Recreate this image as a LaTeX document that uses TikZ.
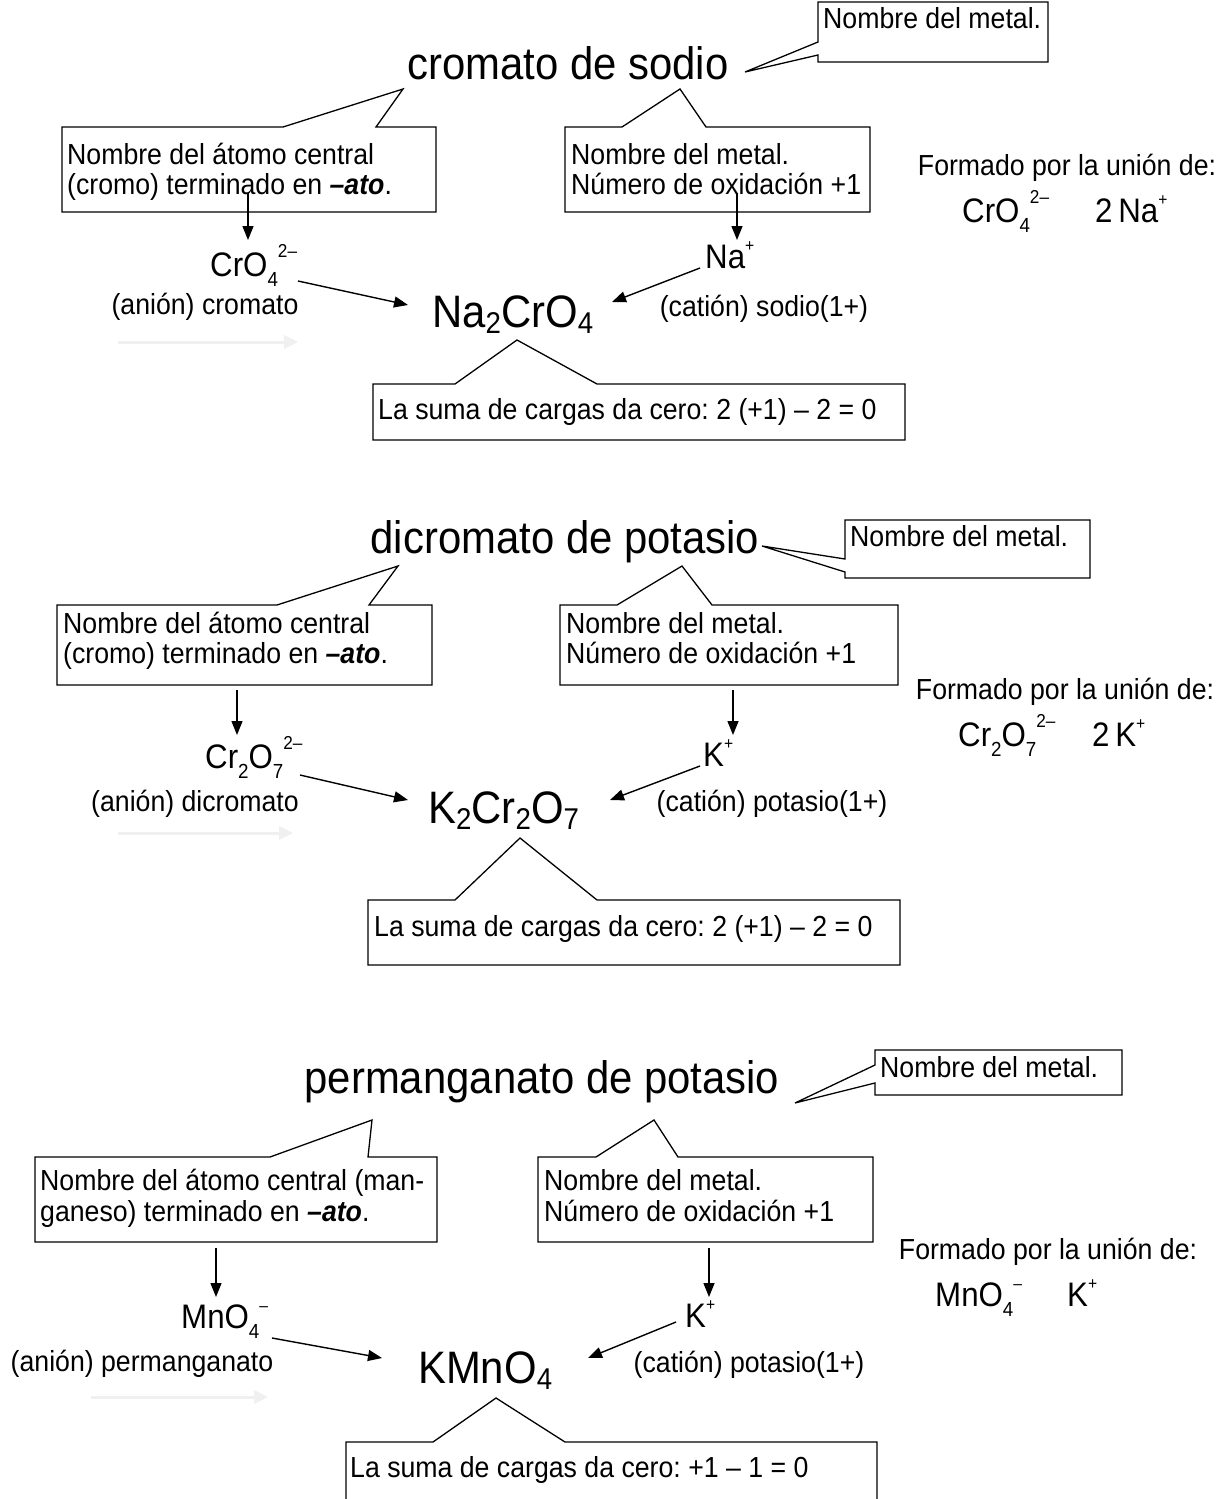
\documentclass[tikz,border=0pt]{standalone}
\usepackage{fontspec}
\usepackage{graphicx}
\setmainfont{Liberation Sans}[FakeStretch=0.92]
\usetikzlibrary{arrows.meta}
\frenchspacing

% chemical sub- and superscripts
\newcommand\isub[1]{\raisebox{-0.3em}{\scalebox{0.6}{#1}}}
\newcommand\isup[1]{\raisebox{0.55em}{\scalebox{0.55}{#1}}}
\newcommand\ichg[1]{\raisebox{0.5em}{\scalebox{0.5}{#1}}}
\newcommand\fsub[1]{\raisebox{-0.14em}{\scalebox{0.66}{#1}}}
\newcommand\ato{{\bfseries\itshape –ato}}

\tikzset{
  callout/.style={draw, line width=1.3pt, line join=miter, fill=white},
  arr/.style={line width=1.4pt, -{Triangle[length=14pt,width=11pt]}},
  faint/.style={draw=black!6, line width=3pt, -{Triangle[length=14pt,width=13pt,fill=black!6]}},
  body/.style={font=\fontsize{29}{33}\selectfont, inner sep=0pt, anchor=base west},
  bodyc/.style={font=\fontsize{29}{33}\selectfont, inner sep=0pt, anchor=base},
  title/.style={font=\fontsize{45.5}{50}\selectfont, inner sep=0pt, anchor=base},
  ion/.style={font=\fontsize{34}{38}\selectfont, inner sep=0pt, anchor=base west},
  formula/.style={font=\fontsize{45.5}{50}\selectfont, inner sep=0pt, anchor=base west},
}

\begin{document}
\begin{tikzpicture}[x=1pt,y=-1pt]
\useasboundingbox (0,0) rectangle (1221,1499);
\clip (0,0) rectangle (1221,1499);
\fill[white] (0,0) rectangle (1221,1499);

% ================= cromato de sodio =================
\draw[callout] (818,2) -- (1048,2) -- (1048,62) -- (818,62) -- (818,55) -- (745,72) -- (818,42) -- cycle;
\node[body] (m1) at (823,28) {Nombre del metal.};
\node[title] (t1) at (568,79) {cromato de sodio};

\draw[callout] (62,127) -- (283,127) -- (403,89) -- (376,127) -- (436,127) -- (436,212) -- (62,212) -- cycle;
\node[body] (a1) at (67,164) {Nombre del átomo central};
\node[body] (a1b) at (67,194) {(cromo) terminado en \ato.};

\draw[callout] (565,127) -- (622,127) -- (680,89) -- (706,127) -- (870,127) -- (870,212) -- (565,212) -- cycle;
\node[body] (c1) at (571,164) {Nombre del metal.};
\node[body] (c1b) at (571,194) {Número de oxidación +1};

\node[ion] (an1) at (210,276) {CrO\isub{4}\isup{2–}};
\node[bodyc] (an1l) at (205,314) {(anión) cromato};
\node[formula] (f1) at (432,327) {Na\fsub{2}CrO\fsub{4}};
\node[ion] (ca1) at (705,268) {Na\ichg{+}};
\node[bodyc] (ca1l) at (764,316) {(catión) sodio(1+)};

\coordinate (p1a) at (248,193); \coordinate (p1b) at (248,240);
\coordinate (q1a) at (737,193); \coordinate (q1b) at (737,240);
\coordinate (r1a) at (298,281); \coordinate (r1b) at (408,305);
\coordinate (s1a) at (700,268); \coordinate (s1b) at (612,302);
\coordinate (g1a) at (118,342); \coordinate (g1b) at (298,342);
\draw[arr] (p1a) -- (p1b);
\draw[arr] (q1a) -- (q1b);
\draw[arr] (r1a) -- (r1b);
\draw[arr] (s1a) -- (s1b);
\draw[faint] (g1a) -- (g1b);

\node[bodyc] (u1) at (1067,175) {Formado por la unión de:};
\node[ion] (u1a) at (962,222) {CrO\isub{4}\isup{2–}};
\node[ion] (u1b) at (1095,222) {2\,Na\ichg{+}};

\draw[callout] (373,384) -- (455,384) -- (517,340) -- (597,384) -- (905,384) -- (905,440) -- (373,440) -- cycle;
\node[body] (z1) at (378,419) {La suma de cargas da cero: 2 (+1) – 2 = 0};

% ================= dicromato de potasio =================
\draw[callout] (845,520) -- (1090,520) -- (1090,578) -- (845,578) -- (845,572) -- (762,546) -- (845,559) -- cycle;
\node[body] (m2) at (850,546) {Nombre del metal.};
\node[title] (t2) at (565,553) {dicromato de potasio};

\draw[callout] (57,605) -- (277,605) -- (398,566) -- (369,605) -- (432,605) -- (432,685) -- (57,685) -- cycle;
\node[body] (a2) at (63,633) {Nombre del átomo central};
\node[body] (a2b) at (63,663) {(cromo) terminado en \ato.};

\draw[callout] (560,605) -- (617,605) -- (682,566) -- (712,605) -- (898,605) -- (898,685) -- (560,685) -- cycle;
\node[body] (c2) at (566,633) {Nombre del metal.};
\node[body] (c2b) at (566,663) {Número de oxidación +1};

\node[ion] (an2) at (205,768) {Cr\isub{2}O\isub{7}\isup{2–}};
\node[bodyc] (an2l) at (195,811) {(anión) dicromato};
\node[formula] (f2) at (428,823) {K\fsub{2}Cr\fsub{2}O\fsub{7}};
\node[ion] (ca2) at (703,766) {K\ichg{+}};
\node[bodyc] (ca2l) at (772,811) {(catión) potasio(1+)};

\coordinate (p2a) at (237,690); \coordinate (p2b) at (237,735);
\coordinate (q2a) at (733,690); \coordinate (q2b) at (733,735);
\coordinate (r2a) at (300,775); \coordinate (r2b) at (408,800);
\coordinate (s2a) at (700,766); \coordinate (s2b) at (610,800);
\coordinate (g2a) at (118,833); \coordinate (g2b) at (293,833);
\draw[arr] (p2a) -- (p2b);
\draw[arr] (q2a) -- (q2b);
\draw[arr] (r2a) -- (r2b);
\draw[arr] (s2a) -- (s2b);
\draw[faint] (g2a) -- (g2b);

\node[bodyc] (u2) at (1065,699) {Formado por la unión de:};
\node[ion] (u2a) at (958,746) {Cr\isub{2}O\isub{7}\isup{2–}};
\node[ion] (u2b) at (1092,746) {2\,K\ichg{+}};

\draw[callout] (368,900) -- (455,900) -- (520,838) -- (597,900) -- (900,900) -- (900,965) -- (368,965) -- cycle;
\node[body] (z2) at (374,936) {La suma de cargas da cero: 2 (+1) – 2 = 0};

% ================= permanganato de potasio =================
\draw[callout] (875,1050) -- (1122,1050) -- (1122,1095) -- (875,1095) -- (875,1083) -- (795,1103) -- (875,1065) -- cycle;
\node[body] (m3) at (880,1077) {Nombre del metal.};
\node[title] (t3) at (542,1093) {permanganato de potasio};

\draw[callout] (35,1157) -- (270,1157) -- (372,1120) -- (368,1157) -- (437,1157) -- (437,1242) -- (35,1242) -- cycle;
\node[body] (a3) at (40,1190) {Nombre del átomo central (man-};
\node[body] (a3b) at (40,1221) {ganeso) terminado en \ato.};

\draw[callout] (538,1157) -- (596,1157) -- (654,1120) -- (678,1157) -- (873,1157) -- (873,1242) -- (538,1242) -- cycle;
\node[body] (c3) at (544,1190) {Nombre del metal.};
\node[body] (c3b) at (544,1221) {Número de oxidación +1};

\node[ion] (an3) at (181,1328) {MnO\isub{4}\ichg{–}};
\node[bodyc] (an3l) at (142,1371) {(anión) permanganato};
\node[formula] (f3) at (418,1383) {KMnO\fsub{4}};
\node[ion] (ca3) at (685,1327) {K\ichg{+}};
\node[bodyc] (ca3l) at (749,1372) {(catión) potasio(1+)};

\coordinate (p3a) at (216,1248); \coordinate (p3b) at (216,1297);
\coordinate (q3a) at (709,1248); \coordinate (q3b) at (709,1297);
\coordinate (r3a) at (272,1338); \coordinate (r3b) at (382,1358);
\coordinate (s3a) at (676,1322); \coordinate (s3b) at (588,1358);
\coordinate (g3a) at (91,1397); \coordinate (g3b) at (268,1397);
\draw[arr] (p3a) -- (p3b);
\draw[arr] (q3a) -- (q3b);
\draw[arr] (r3a) -- (r3b);
\draw[arr] (s3a) -- (s3b);
\draw[faint] (g3a) -- (g3b);

\node[bodyc] (u3) at (1048,1259) {Formado por la unión de:};
\node[ion] (u3a) at (935,1306) {MnO\isub{4}\ichg{–}};
\node[ion] (u3b) at (1067,1306) {K\ichg{+}};

\draw[callout] (346,1510) -- (346,1442) -- (433,1442) -- (496,1398) -- (565,1442) -- (877,1442) -- (877,1510);
\node[body] (z3) at (350,1477) {La suma de cargas da cero: +1 – 1 = 0};
\end{tikzpicture}
\end{document}
